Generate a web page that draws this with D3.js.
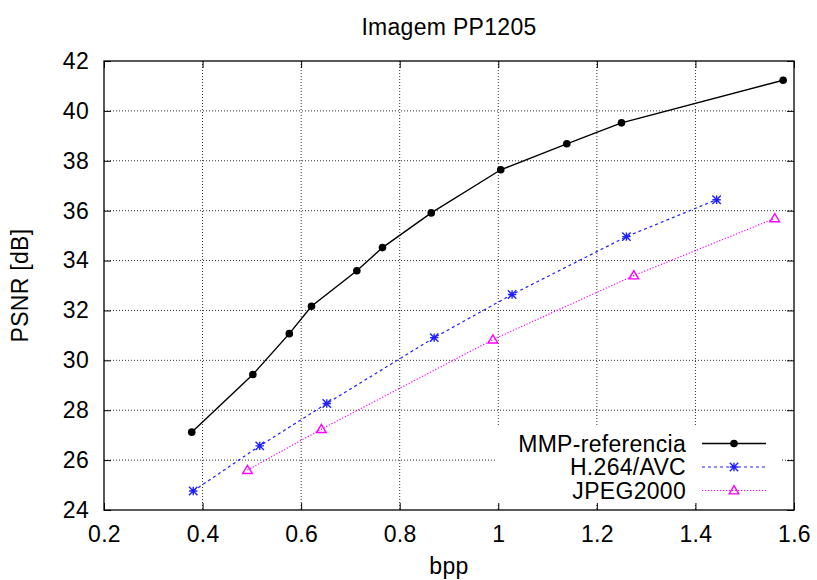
<!DOCTYPE html>
<html>
<head>
<meta charset="utf-8">
<script src="https://cdn.jsdelivr.net/npm/d3@7"></script>
<style>
    body { margin: 0; background: #fff; }
    text { font-family: "Liberation Sans", Arial, sans-serif; fill: #000; letter-spacing: 0.3px; }
    .grid line { stroke: #333; stroke-width: 1; stroke-dasharray: 1,2; }
</style>
</head>
<body>
<script>
//chart data
var mmpX = [0.378, 0.502, 0.576, 0.621, 0.713, 0.765, 0.864, 1.005, 1.139, 1.25, 1.578];
var mmpY = [27.12, 29.43, 31.07, 32.17, 33.59, 34.52, 35.91, 37.64, 38.68, 39.52, 41.23];
var h264X = [0.381, 0.516, 0.652, 0.870, 1.028, 1.260, 1.443];
var h264Y = [24.76, 26.57, 28.27, 30.91, 32.64, 34.96, 36.44];
var jpegX = [0.491, 0.641, 0.989, 1.275, 1.561];
var jpegY = [25.60, 27.24, 30.83, 33.40, 35.69];
var seriesNames = ["MMP-referencia", "H.264/AVC", "JPEG2000"];
var xTicks = [0.2, 0.4, 0.6, 0.8, 1, 1.2, 1.4, 1.6];
var yTicks = [24, 26, 28, 30, 32, 34, 36, 38, 40, 42];

window.onload = setChart();

function setChart(){

    var width = 817,
        height = 580,
        fontSize = 23;

    //plot box edges
    var left = 104, right = 794, top = 61, bottom = 510;

    var svg = d3.select("body")
        .append("svg")
        .attr("width", width)
        .attr("height", height);

    var x = d3.scaleLinear().domain([0.2, 1.6]).range([left, right]);
    var y = d3.scaleLinear().domain([24, 42]).range([bottom, top]);

    //dotted grid
    var grid = svg.append("g").attr("class", "grid");
    grid.selectAll(".vg")
        .data(xTicks.slice(1, -1))
        .enter()
        .append("line")
        .attr("x1", function(d){ return x(d); })
        .attr("x2", function(d){ return x(d); })
        .attr("y1", top)
        .attr("y2", bottom);
    grid.selectAll(".hg")
        .data(yTicks.slice(1, -1))
        .enter()
        .append("line")
        .attr("x1", left)
        .attr("x2", right)
        .attr("y1", function(d){ return y(d); })
        .attr("y2", function(d){ return y(d); });

    //legend area blanks the grid
    svg.append("rect")
        .attr("x", 495).attr("y", 427)
        .attr("width", 285).attr("height", 76)
        .attr("fill", "#fff");

    //axes with inward ticks, mirrored on the other sides
    var fmt = function(d){ return d3.format("")(d); };
    svg.append("g")
        .attr("transform", "translate(0," + bottom + ")")
        .call(d3.axisBottom(x).tickValues(xTicks).tickSize(-7).tickPadding(16).tickFormat(fmt))
        .call(styleAxis);
    svg.append("g")
        .attr("transform", "translate(0," + top + ")")
        .call(d3.axisTop(x).tickValues(xTicks).tickSize(-7).tickFormat(""))
        .call(styleAxis);
    svg.append("g")
        .attr("transform", "translate(" + left + ",0)")
        .call(d3.axisLeft(y).tickValues(yTicks).tickSize(-7).tickPadding(15).tickFormat(fmt))
        .call(styleAxis);
    svg.append("g")
        .attr("transform", "translate(" + right + ",0)")
        .call(d3.axisRight(y).tickValues(yTicks).tickSize(-7).tickFormat(""))
        .call(styleAxis);

    function styleAxis(g){
        g.select(".domain").remove();
        g.selectAll(".tick line").attr("stroke", "#000");
        g.selectAll(".tick text")
            .attr("font-size", fontSize)
            .attr("font-family", "Liberation Sans, Arial, sans-serif");
    }

    //frame
    svg.append("rect")
        .attr("x", left).attr("y", top)
        .attr("width", right - left).attr("height", bottom - top)
        .attr("fill", "none")
        .attr("stroke", "#000")
        .attr("stroke-width", 1.3);

    //titles
    svg.append("text")
        .attr("x", (left + right) / 2).attr("y", 35)
        .attr("text-anchor", "middle")
        .attr("font-size", fontSize)
        .text("Imagem PP1205");
    svg.append("text")
        .attr("x", (left + right) / 2).attr("y", 574)
        .attr("text-anchor", "middle")
        .attr("font-size", fontSize)
        .text("bpp");
    svg.append("text")
        .attr("transform", "translate(28," + (top + bottom) / 2 + ") rotate(-90)")
        .attr("text-anchor", "middle")
        .attr("font-size", fontSize)
        .text("PSNR [dB]");

    //series
    var series = [
        {name: seriesNames[0], pts: d3.zip(mmpX, mmpY), color: "#000", dash: null, width: 1.4, mark: "dot"},
        {name: seriesNames[1], pts: d3.zip(h264X, h264Y), color: "#2020ff", dash: "3,3", width: 1.2, mark: "star"},
        {name: seriesNames[2], pts: d3.zip(jpegX, jpegY), color: "#ff00ff", dash: "1.2,1.8", width: 1.2, mark: "tri"}
    ];

    var line = d3.line()
        .x(function(d){ return x(d[0]); })
        .y(function(d){ return y(d[1]); });

    series.forEach(function(s, i){
        svg.append("path")
            .datum(s.pts)
            .attr("d", line)
            .attr("fill", "none")
            .attr("stroke", s.color)
            .attr("stroke-width", s.width)
            .attr("stroke-dasharray", s.dash);
        s.pts.forEach(function(p){
            drawMark(svg, s, x(p[0]), y(p[1]));
        });

        //legend row
        var ly = 443.5 + i * 23.5;
        svg.append("text")
            .attr("x", 686).attr("y", ly + 8)
            .attr("text-anchor", "end")
            .attr("font-size", fontSize)
            .text(s.name);
        svg.append("line")
            .attr("x1", 702).attr("x2", 766)
            .attr("y1", ly).attr("y2", ly)
            .attr("stroke", s.color)
            .attr("stroke-width", s.width)
            .attr("stroke-dasharray", s.dash);
        drawMark(svg, s, 734, ly);
    });

    function drawMark(g, s, cx, cy){
        if (s.mark == "dot"){
            g.append("circle")
                .attr("cx", cx).attr("cy", cy).attr("r", 3.8)
                .attr("fill", s.color);
        } else if (s.mark == "star"){
            var r = 4.2;
            g.append("path")
                .attr("d", "M" + (cx - r) + "," + cy + "H" + (cx + r) +
                    "M" + cx + "," + (cy - r) + "V" + (cy + r) +
                    "M" + (cx - r) + "," + (cy - r) + "L" + (cx + r) + "," + (cy + r) +
                    "M" + (cx - r) + "," + (cy + r) + "L" + (cx + r) + "," + (cy - r))
                .attr("stroke", s.color)
                .attr("stroke-width", 1.4)
                .attr("fill", "none");
        } else {
            var t = 4.8;
            g.append("path")
                .attr("d", "M" + cx + "," + (cy - t) + "L" + (cx + t) + "," + (cy + t * 0.7) +
                    "L" + (cx - t) + "," + (cy + t * 0.7) + "Z")
                .attr("stroke", s.color)
                .attr("stroke-width", 1.4)
                .attr("fill", "none");
        }
    }
}
</script>
</body>
</html>
